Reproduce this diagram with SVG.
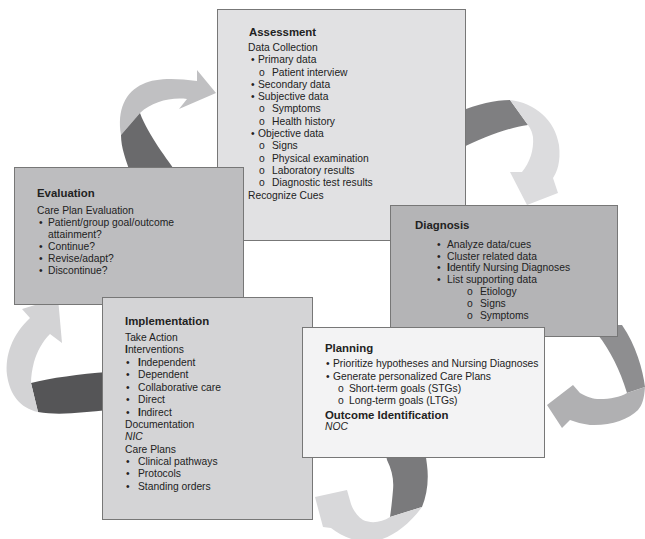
<svg xmlns="http://www.w3.org/2000/svg" width="645" height="539" viewBox="0 0 645 539">
<style>
text{font-family:"Liberation Sans",Arial,sans-serif;font-size:10.3px;fill:#222}
.h{font-weight:bold;font-size:11.4px}
.b{font-weight:bold}
.i{font-style:italic}
.box{stroke:#777;stroke-width:1}
</style>
<rect width="645" height="539" fill="#fff"/>
<g id="connectors">
 <!-- Evaluation -> Assessment -->
 <path d="M121,135 C117,110 125,92 143,84 C155,78 175,78 197,81 L197,70 L216,93 L179,109 L187,99 C170,97 152,102 140,113 Z" fill="#c0c0c2"/>
 <path d="M121,135 C121,148 126,160 131,175 L178,175 C168,160 148,135 140,113 Z" fill="#6a6a6c"/>
 <!-- Assessment -> Diagnosis -->
 <path d="M458,112 C478,104 495,100 510,100 L528,125 C508,128 485,136 458,150 Z" fill="#7f7f81"/>
 <path d="M510,100 C535,103 555,120 559,145 C561,162 557,172 553,178 L558,193 L527,205 L510,172 L522,172 C530,162 534,150 533,137 C532,131 530,128 528,125 Z" fill="#dcdcde"/>
 <!-- Diagnosis -> Planning -->
 <path d="M593,325 L598,335 C610,350 620,370 627,393 L645,387 C643,370 636,345 622,325 Z" fill="#8e8e90"/>
 <path d="M645,387 C644,400 642,405 638,410 C628,420 610,426 590,425 C582,424 576,422 570,420 L562,428 L547,405 L573,385 L580,393 C588,397 592,399 600,399 C610,399 620,397 627,393 Z" fill="#b0b0b2"/>
 <!-- Planning -> Implementation -->
 <path d="M385,450 L387,460 C392,470 394,480 393,490 C392,502 391,510 390,517 L422,507 C427,495 429,480 427,465 L425,450 Z" fill="#7a7a7c"/>
 <path d="M390,517 C382,522 372,524 363,520 C357,516 353,510 351,504 L347,490 L315,497 L323,527 L331,528 C340,535 350,540 365,542 C385,542 405,530 422,507 Z" fill="#d8d8da"/>
 <!-- Implementation -> Evaluation -->
 <path d="M31,383 C50,378 80,374 108,372 L108,410 C85,412 60,416 38,412 Z" fill="#555557"/>
 <path d="M38,412 C20,408 10,395 7,375 C5,355 12,335 30,318 L22,309 L58,298 L62,343 L50,334 C42,342 37,352 34,362 C32,370 31,376 31,383 Z" fill="#d3d3d5"/>
</g>
<g id="assessment">
 <rect class="box" x="217.5" y="9.5" width="248" height="231" fill="#e1e1e3"/>
 <text class="h" x="249" y="36">Assessment</text>
 <text x="248" y="51">Data Collection</text>
 <text x="251" y="63">•</text><text x="258" y="63">Primary data</text>
 <text x="259" y="75.5">o</text><text x="272" y="75.5">Patient interview</text>
 <text x="251" y="87.5">•</text><text x="258" y="87.5">Secondary data</text>
 <text x="251" y="100">•</text><text x="258" y="100">Subjective data</text>
 <text x="259" y="112">o</text><text x="272" y="112">Symptoms</text>
 <text x="259" y="124.5">o</text><text x="272" y="124.5">Health history</text>
 <text x="251" y="137">•</text><text x="258" y="137">Objective data</text>
 <text x="259" y="149">o</text><text x="272" y="149">Signs</text>
 <text x="259" y="161.5">o</text><text x="272" y="161.5">Physical examination</text>
 <text x="259" y="174">o</text><text x="272" y="174">Laboratory results</text>
 <text x="259" y="186">o</text><text x="272" y="186">Diagnostic test results</text>
 <text x="248" y="199">Recognize Cues</text>
</g>
<g id="evaluation">
 <rect class="box" x="14.5" y="167.5" width="229" height="137" fill="#bdbdbf"/>
 <text class="h" x="37" y="197">Evaluation</text>
 <text x="37" y="214">Care Plan Evaluation</text>
 <text x="39" y="226">•</text><text x="48" y="226">Patient/group goal/outcome</text>
 <text x="48" y="238">attainment?</text>
 <text x="39" y="250">•</text><text x="48" y="250">Continue?</text>
 <text x="39" y="262">•</text><text x="48" y="262">Revise/adapt?</text>
 <text x="39" y="274">•</text><text x="48" y="274">Discontinue?</text>
</g>
<g id="diagnosis">
 <rect class="box" x="390.5" y="205.5" width="227" height="131" fill="#b4b4b6"/>
 <text class="h" x="415" y="229">Diagnosis</text>
 <text x="437" y="248">•</text><text x="447" y="248">Analyze data/cues</text>
 <text x="437" y="259.5">•</text><text x="447" y="259.5">Cluster related data</text>
 <text x="437" y="271">•</text><text x="447" y="271"><tspan class="b">I</tspan>dentify Nursing Diagnoses</text>
 <text x="437" y="282.5">•</text><text x="447" y="282.5">List supporting data</text>
 <text x="467" y="295">o</text><text x="480" y="295">Etiology</text>
 <text x="467" y="307">o</text><text x="480" y="307">Signs</text>
 <text x="467" y="319">o</text><text x="480" y="319">Symptoms</text>
</g>
<g id="implementation">
 <rect class="box" x="102.5" y="297.5" width="210" height="222" fill="#d4d4d6"/>
 <text class="h" x="125" y="325">Implementation</text>
 <text x="125" y="341">Take Action</text>
 <text x="125" y="353"><tspan class="b">I</tspan>nterventions</text>
 <text x="126" y="366">•</text><text x="138" y="366"><tspan class="b">I</tspan>ndependent</text>
 <text x="126" y="378">•</text><text x="138" y="378">Dependent</text>
 <text x="126" y="391">•</text><text x="138" y="391">Collaborative care</text>
 <text x="126" y="403">•</text><text x="138" y="403">Direct</text>
 <text x="126" y="415.5">•</text><text x="138" y="415.5"><tspan class="b">I</tspan>ndirect</text>
 <text x="125" y="428">Documentation</text>
 <text class="i" x="125" y="440">NIC</text>
 <text x="125" y="452.5">Care Plans</text>
 <text x="126" y="465">•</text><text x="138" y="465">Clinical pathways</text>
 <text x="126" y="477">•</text><text x="138" y="477">Protocols</text>
 <text x="126" y="490">•</text><text x="138" y="490">Standing orders</text>
</g>
<g id="planning">
 <rect class="box" x="302.5" y="327.5" width="242" height="130" fill="#f3f3f4"/>
 <text class="h" x="325" y="352">Planning</text>
 <text x="326" y="367">•</text><text x="333" y="367">Prioritize hypotheses and Nursing Diagnoses</text>
 <text x="326" y="379.5">•</text><text x="333" y="379.5">Generate personalized Care Plans</text>
 <text x="338" y="392">o</text><text x="349" y="392">Short-term goals (STGs)</text>
 <text x="338" y="404">o</text><text x="349" y="404">Long-term goals (LTGs)</text>
 <text class="h" x="325" y="419">Outcome Identification</text>
 <text class="i" x="325" y="429.5">NOC</text>
</g>
</svg>
